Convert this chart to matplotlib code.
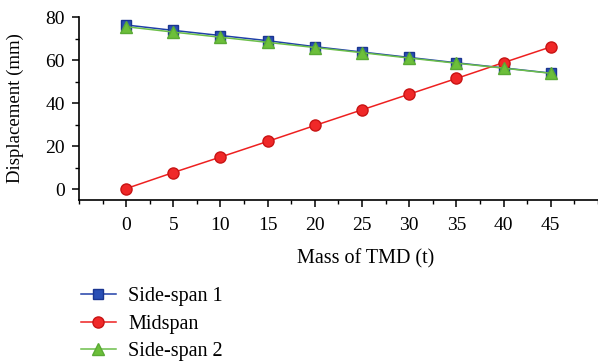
import matplotlib
matplotlib.use("Agg")
import matplotlib.pyplot as plt
from matplotlib.ticker import MultipleLocator

mass = [0, 5, 10, 15, 20, 25, 30, 35, 40, 45]
side_span_1 = [76.5, 74.0, 71.6, 69.2, 66.4, 63.9, 61.4, 58.9, 56.5, 54.1]
midspan = [0.3, 7.8, 15.0, 22.3, 29.7, 37.0, 44.3, 51.6, 59.0, 66.3]
side_span_2 = [75.7, 73.2, 70.8, 68.4, 66.0, 63.6, 61.1, 58.7, 56.4, 54.0]
x_ticks = [0, 5, 10, 15, 20, 25, 30, 35, 40, 45]
y_ticks = [0, 20, 40, 60, 80]

plt.rcParams['font.family'] = ['Liberation Serif', 'DejaVu Serif']

fig = plt.figure(figsize=(5.98, 3.62), dpi=100)
ax = fig.add_axes([0.132, 0.4475, 0.868, 0.5042])

ax.plot(mass, side_span_1, color='#2040a8', lw=1.1, marker='s', ms=6.5,
        mfc='#2a4fb5', mec='#1a3590', label='Side-span 1', zorder=3)
ax.plot(mass, midspan, color='#ee2020', lw=1.1, marker='o', ms=8,
        mfc='#f02828', mec='#c81414', label='Midspan', zorder=3)
ax.plot(mass, side_span_2, color='#6cbf4a', lw=1.1, marker='^', ms=8.5,
        mfc='#6cbf3a', mec='#5aaa34', label='Side-span 2', zorder=4)

ax.set_xlim(-5, 50)
ax.set_ylim(-5, 80)
ax.set_xticks(x_ticks)
ax.set_yticks(y_ticks)
ax.xaxis.set_minor_locator(MultipleLocator(2.5))
ax.yaxis.set_minor_locator(MultipleLocator(10))
ax.tick_params(which='major', direction='out', length=5, width=1.1, labelsize=14)
ax.tick_params(axis='x', which='major', pad=7)
ax.tick_params(axis='y', which='major', pad=5)
ax.tick_params(which='minor', direction='out', length=3, width=1.0)

for s in ['top', 'right']:
    ax.spines[s].set_visible(False)
for s in ['left', 'bottom']:
    ax.spines[s].set_linewidth(1.2)

ax.set_xlabel('Mass of TMD (t)', fontsize=14.5)
ax.xaxis.set_label_coords(0.553, -0.27)
ax.set_ylabel('Displacement (mm)', fontsize=13.5)
ax.yaxis.set_label_coords(-0.105, 0.505)

fig.legend(loc='upper left', bbox_to_anchor=(0.118, 0.234), frameon=False,
           fontsize=14.5, handlelength=1.75, labelspacing=0.4, borderpad=0,
           handletextpad=0.6)

fig.savefig('out.png', dpi=100)
